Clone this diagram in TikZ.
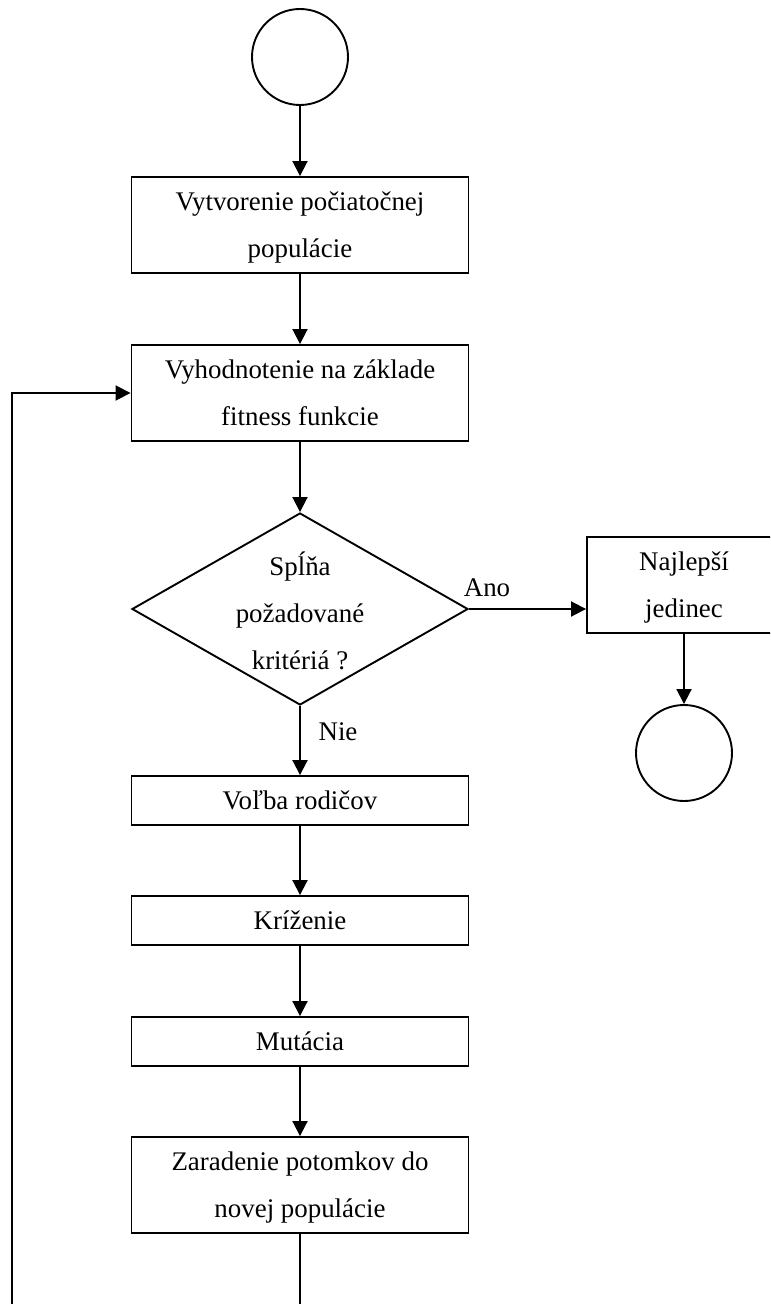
\documentclass[tikz,border=0pt]{standalone}
\usepackage{fontspec}
\setmainfont{Liberation Serif}
\usetikzlibrary{arrows.meta,shapes.geometric,calc}

\tikzset{
  every picture/.style={x=1bp,y=-1bp},
  flow/.style={line width=1.9bp},
  arr/.style={flow,-{Triangle[length=15bp,width=15bp]}},
  stepbox/.style={draw,flow,rectangle,minimum width=337bp,inner sep=0pt,align=center,text depth=0pt},
  tallbox/.style={stepbox,minimum height=96bp},
  flatbox/.style={stepbox,minimum height=49bp},
  terminal/.style={draw,flow,circle,minimum size=96bp,inner sep=0pt},
  txt/.style={font=\fontsize{27}{47}\selectfont},
}

\begin{document}
\begin{tikzpicture}[txt]
  \useasboundingbox (0,0) rectangle (770,1304);
  \clip (0,0) rectangle (770,1304);

  % main column
  \node[terminal] (start) at (300,57) {};
  \node[tallbox] (init) at (300,225) {Vytvorenie počiatočnej\\populácie};
  \node[tallbox] (eval) at (300,393) {Vyhodnotenie na základe\\fitness funkcie};
  \node[draw,flow,diamond,minimum width=336bp,minimum height=192bp,inner sep=0pt] (check) at (300,609) {};
  \node[align=center] (checktxt) at (300,611) {Spĺňa\\požadované\\kritériá ?};
  \node[flatbox] (sel) at (300,800.5) {Voľba rodičov};
  \node[flatbox] (cross) at (300,920.5) {Kríženie};
  \node[flatbox] (mut) at (300,1041.5) {Mutácia};
  \node[tallbox] (ins) at (300,1185) {Zaradenie potomkov do\\novej populácie};

  % result branch
  \node[draw,flow,rectangle,minimum width=194bp,minimum height=96bp,inner sep=0pt,align=center,text depth=0pt] (best) at (684,585) {Najlepší\\jedinec};
  \node[terminal] (stop) at (684,753) {};

  % connectors
  \draw[arr] (start) -- (init);
  \draw[arr] (init) -- (eval);
  \draw[arr] (eval) -- (check.north);
  \draw[arr] (check.east) -- (check.east -| best.west);
  \node (ano) at (487,588) {Ano};
  \draw[arr] (best) -- (stop);
  \draw[arr] (check.south) -- (sel);
  \node (nie) at (338,732) {Nie};
  \draw[arr] (sel) -- (cross);
  \draw[arr] (cross) -- (mut);
  \draw[arr] (mut) -- (ins);

  % loop back to evaluation
  \coordinate (loopa) at (300,1340);
  \coordinate (loopb) at (12,1340);
  \draw[arr] (ins.south) -- (loopa) -- (loopb) |- (eval.west);
\end{tikzpicture}
\end{document}
